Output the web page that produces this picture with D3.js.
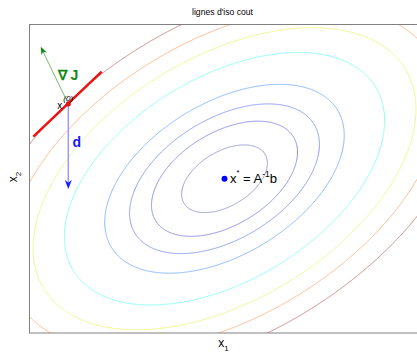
<!DOCTYPE html>
<html><head><meta charset="utf-8">
<script src="https://cdn.jsdelivr.net/npm/d3@7"></script>
<style>body{margin:0;background:#fff} svg{display:block;font-family:"Liberation Sans",Arial,Helvetica,sans-serif}</style>
</head><body><svg id="c" width="417" height="353"></svg>
<script>
// ---- data ----
const title = "lignes d'iso cout";
const xLabel = "x";  const xLabelSub = "1";
const yLabel = "x";  const yLabelSub = "2";
const xDomain = [0, 3.905];
const yDomain = [0, 3];
const A = [[1.0, -0.6], [-0.6, 1.7]];
const b = [1.05, 1.38];
const levels = [0.145, 0.42, 0.71, 1.13, 2.02, 2.89, 3.72, 4.78];
const levelColors = ["#9c9cd4", "#8e8ee8", "#8c9cf2", "#88b6ff", "#8cfff2", "#eef58c", "#ffb88a", "#c48a8a"];
const x0 = [0.388, 2.227];
const gradEnd = [0.112, 2.784];
const dEnd = [0.388, 1.40];
const tangentStart = [0.038, 1.909];
const tangentEnd = [0.722, 2.541];

// ---- layout ----
const svg = d3.select("#c");
const L = 29.5, T = 24.5, R = 420, B = 333;
const x = d3.scaleLinear().domain(xDomain).range([L, R]);
const y = d3.scaleLinear().domain(yDomain).range([B, T]);

// x* = A^-1 b
const det = A[0][0]*A[1][1] - A[0][1]*A[1][0];
const xs = [(A[1][1]*b[0] - A[0][1]*b[1]) / det, (-A[1][0]*b[0] + A[0][0]*b[1]) / det];
const Q = (u, v) => { const du = u - xs[0], dv = v - xs[1];
  return A[0][0]*du*du + (A[0][1] + A[1][0])*du*dv + A[1][1]*dv*dv; };

// grid (extended beyond the axes, clipped)
const step = 0.01, gx0 = -0.3, gx1 = 4.3, gy0 = -0.3, gy1 = 3.3;
const nx = Math.round((gx1 - gx0)/step) + 1, ny = Math.round((gy1 - gy0)/step) + 1;
const vals = new Float64Array(nx*ny);
for (let j = 0; j < ny; j++) for (let i = 0; i < nx; i++)
  vals[j*nx + i] = Q(gx0 + i*step, gy1 - j*step);
const contours = d3.contours().size([nx, ny]).thresholds(levels)(vals);
const proj = d3.geoTransform({ point(px, py) {
  this.stream.point(x(gx0 + (px - 0.5)*step), y(gy1 - (py - 0.5)*step)); } });
const path = d3.geoPath(proj);

svg.append("clipPath").attr("id", "clip").append("rect")
  .attr("x", L).attr("y", T).attr("width", R - L).attr("height", B - T);

svg.append("g").attr("clip-path", "url(#clip)")
  .selectAll("path").data(contours).join("path")
  .attr("d", path).attr("fill", "none")
  .attr("stroke", (d, i) => levelColors[levels.indexOf(d.value)])
  .attr("stroke-width", 1);

// axes box
svg.append("rect").attr("x", L).attr("y", T).attr("width", R - L).attr("height", B - T)
  .attr("fill", "none").attr("stroke", "#808080").attr("stroke-width", 1);

// title & labels
svg.append("text").attr("x", 222.5).attr("y", 15).attr("text-anchor", "middle")
  .attr("font-size", 8.6).attr("fill", "#000").text(title);
const xl = svg.append("text").attr("x", 223.5).attr("y", 347).attr("text-anchor", "middle")
  .attr("font-size", 12);
xl.append("tspan").text(xLabel);
xl.append("tspan").attr("dy", 4).attr("font-size", 8).text(xLabelSub);
const yl = svg.append("text").attr("transform", "translate(17,177) rotate(-90)")
  .attr("text-anchor", "middle").attr("font-size", 12);
yl.append("tspan").text(yLabel);
yl.append("tspan").attr("dy", 4).attr("font-size", 8).text(yLabelSub);

// arrows
function arrow(p0, p1, lineColor, headColor, lw, hl, hw) {
  const X0 = x(p0[0]), Y0 = y(p0[1]), X1 = x(p1[0]), Y1 = y(p1[1]);
  const len = Math.hypot(X1 - X0, Y1 - Y0), ux = (X1 - X0)/len, uy = (Y1 - Y0)/len;
  svg.append("line").attr("x1", X0).attr("y1", Y0).attr("x2", X1 - ux*hl*0.5).attr("y2", Y1 - uy*hl*0.5)
    .attr("stroke", lineColor).attr("stroke-width", lw);
  const bx = X1 - ux*hl, by = Y1 - uy*hl, nxv = -uy, nyv = ux;
  const mx = X1 - ux*hl*0.7, my = Y1 - uy*hl*0.7;
  svg.append("path").attr("d", `M${X1},${Y1}L${bx + nxv*hw/2},${by + nyv*hw/2}L${mx},${my}L${bx - nxv*hw/2},${by - nyv*hw/2}Z`)
    .attr("fill", headColor);
}
arrow(x0, gradEnd, "#78b878", "#118811", 1, 8, 6);
arrow(x0, dEnd, "#9a9aff", "#1a1aff", 1.5, 9, 7);

// tangent line
svg.append("line").attr("x1", x(tangentStart[0])).attr("y1", y(tangentStart[1]))
  .attr("x2", x(tangentEnd[0])).attr("y2", y(tangentEnd[1]))
  .attr("stroke", "#f01010").attr("stroke-width", 2.5);
svg.append("circle").attr("cx", x(x0[0])).attr("cy", y(x0[1])).attr("r", 2.5).attr("fill", "#e01010");

// optimum
svg.append("circle").attr("cx", x(xs[0])).attr("cy", y(xs[1])).attr("r", 3).attr("fill", "#0000ff");

// annotations
svg.append("text").attr("x", 57.5).attr("y", 79.5).attr("font-size", 14).attr("font-weight", "bold")
  .attr("fill", "#118811").text("\u2207 J");
svg.append("text").attr("x", 72.5).attr("y", 146.5).attr("font-size", 14).attr("font-weight", "bold")
  .attr("fill", "#1a1aff").text("d");
const t0 = svg.append("text").attr("x", x(x0[0]) - 11).attr("y", y(x0[1]) + 5).attr("font-size", 10).attr("fill", "#000");
t0.append("tspan").text("x");
t0.append("tspan").attr("dx", 1).attr("dy", -8).attr("font-size", 8).attr("font-style", "italic").text("(0)");
const ts = svg.append("text").attr("x", x(xs[0]) + 5.5).attr("y", y(xs[1]) + 4.7).attr("font-size", 13).attr("fill", "#000");
ts.append("tspan").text("x");
ts.append("tspan").attr("dy", -8).attr("font-size", 7.5).text("*");
ts.append("tspan").attr("dy", 8).text(" = A");
ts.append("tspan").attr("dy", -6).attr("font-size", 8.5).text("-1");
ts.append("tspan").attr("dy", 6).text("b");
</script></body></html>
